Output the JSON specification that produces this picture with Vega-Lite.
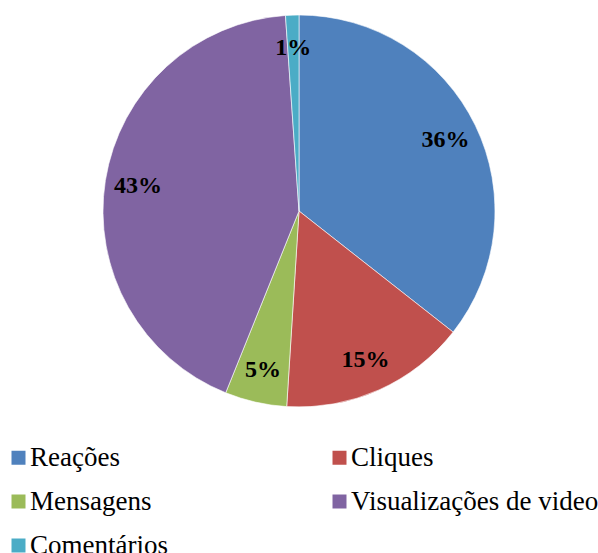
{
  "$schema": "https://vega.github.io/schema/vega-lite/v6.json",
  "width": 598,
  "height": 422,
  "autosize": "none",
  "padding": {"top": 0, "left": 0, "right": 0, "bottom": 131},
  "background": "white",
  "config": {"view": {"stroke": null}, "font": "Liberation Serif"},
  "data": {
    "values": [
      {"category": "Reações", "value": 35.6, "label": "36%", "order": 1},
      {"category": "Cliques", "value": 15.4, "label": "15%", "order": 2},
      {"category": "Mensagens", "value": 5.1, "label": "5%", "order": 3},
      {"category": "Visualizações de video", "value": 42.8, "label": "43%", "order": 4},
      {"category": "Comentários", "value": 1.1, "label": "1%", "order": 5}
    ]
  },
  "encoding": {
    "theta": {"field": "value", "type": "quantitative", "stack": true},
    "order": {"field": "order", "type": "quantitative"}
  },
  "layer": [
    {
      "mark": {"type": "arc", "outerRadius": 196, "stroke": "white", "strokeWidth": 0.6},
      "encoding": {
        "color": {
          "field": "category",
          "type": "nominal",
          "scale": {
            "domain": ["Reações", "Mensagens", "Comentários", "Cliques", "Visualizações de video"],
            "range": ["#4F81BD", "#9BBB59", "#4BACC6", "#C0504D", "#8064A2"]
          },
          "legend": {
            "title": null,
            "orient": "none",
            "legendX": 5,
            "legendY": 444,
            "padding": 0,
            "columns": 2,
            "symbolType": "square",
            "symbolSize": 196,
            "symbolStrokeWidth": 0,
            "labelFont": "Liberation Serif",
            "labelFontSize": 27,
            "labelColor": "black",
            "labelOffset": -2,
            "labelLimit": 400,
            "columnPadding": 158,
            "rowPadding": 16
          }
        }
      }
    },
    {
      "mark": {"type": "text", "radius": 163, "font": "Liberation Serif", "fontWeight": "bold", "fontSize": 24, "color": "black"},
      "encoding": {
        "text": {"field": "label", "type": "nominal"}
      }
    }
  ]
}
